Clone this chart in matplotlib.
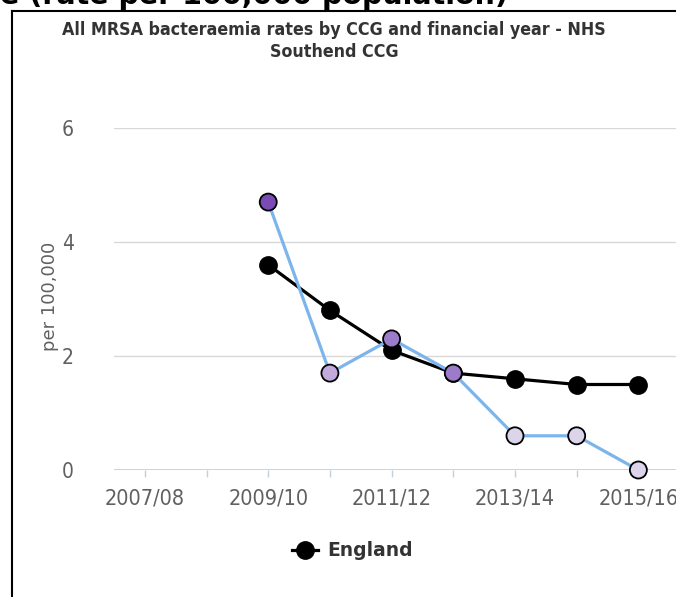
import matplotlib
matplotlib.use("Agg")
import matplotlib.pyplot as plt
from matplotlib.lines import Line2D

categories = ["2007/08", "2008/09", "2009/10", "2010/11", "2011/12",
              "2012/13", "2013/14", "2014/15", "2015/16"]
england = [None, None, 3.6, 2.8, 2.1, 1.7, 1.6, 1.5, 1.5]
southend = [None, None, 4.7, 1.7, 2.3, 1.7, 0.6, 0.6, 0.0]
southend_colors = [None, None, "#7a4bb4", "#c2a9de", "#9c7cca", "#9c7cca",
                   "#dcd4eb", "#dcd4eb", "#dcd4eb"]
yticks = [0, 2, 4, 6]
tick_labels_shown = ["2007/08", "2009/10", "2011/12", "2013/14", "2015/16"]

W, H = 676, 597
fig = plt.figure(figsize=(W / 100, H / 100), dpi=100)

def fx(px):
    return px / W

def fy(py):
    return 1 - py / H

# plot area
left, right, top, bottom = 114, 676, 128, 470
ax = fig.add_axes([fx(left), fy(bottom), fx(right - left), (bottom - top) / H])
ax.set_xlim(-0.5, 8.61)
ax.set_ylim(0, 6)
for s in ax.spines.values():
    s.set_visible(False)
ax.set_facecolor("none")

# gridlines
for yv in yticks[1:]:
    ax.axhline(yv, color="#d8d8d8", lw=1.0, zorder=0)
ax.axhline(0, color="#c0d0e0", lw=1.3, zorder=1)

x_idx = list(range(len(categories)))
ax.set_xticks(x_idx)
ax.set_xticklabels([c if c in tick_labels_shown else "" for c in categories],
                   fontstretch="condensed")
ax.tick_params(axis="x", length=5, width=1, color="#c0d0e0", pad=8,
               labelsize=15.5, labelcolor="#606060")
ax.set_yticks(yticks)
ax.set_yticklabels([str(v) for v in yticks], fontstretch="condensed")
ax.tick_params(axis="y", length=0, pad=29, labelsize=15, labelcolor="#606060")
fig.text(fx(50), fy(296), "per 100,000", rotation=90, ha="center", va="center",
         fontsize=13, color="#606060")

# England series
ex = [i for i, v in zip(x_idx, england) if v is not None]
ey = [v for v in england if v is not None]
ax.plot(ex, ey, color="black", lw=2.3, marker="o", markersize=12.5,
        markerfacecolor="black", markeredgecolor="black", zorder=3, clip_on=False)

# Southend series
sx = [i for i, v in zip(x_idx, southend) if v is not None]
sy = [v for v in southend if v is not None]
sc = [c for c, v in zip(southend_colors, southend) if v is not None]
ax.plot(sx, sy, color="#7cb5ec", lw=2.3, zorder=4, clip_on=False)
ax.scatter(sx, sy, s=150, c=sc, edgecolors="black", linewidths=1.3, zorder=5,
           clip_on=False)

# title
fig.text(fx(334), fy(30), "All MRSA bacteraemia rates by CCG and financial year - NHS",
         ha="center", va="center", fontsize=12.8, fontweight="bold", color="#333333",
         fontstretch="condensed")
fig.text(fx(334), fy(52), "Southend CCG", ha="center", va="center", fontsize=12.8,
         fontweight="bold", color="#333333", fontstretch="condensed")

# clipped page heading at very top
fig.text(fx(0), fy(4), "e (rate per 100,000 population)", ha="left", va="baseline",
         fontsize=20.5, fontweight="bold", color="black")

# border box
fig.add_artist(Line2D([fx(12), fx(12)], [fy(11), fy(600)], color="black", lw=1.5))
fig.add_artist(Line2D([fx(12), fx(680)], [fy(11), fy(11)], color="black", lw=1.5))

# legend
fig.add_artist(Line2D([fx(292), fx(318)], [fy(550), fy(550)], color="black", lw=2.3))
fig.add_artist(Line2D([fx(305)], [fy(550)], color="black", marker="o", markersize=12.5))
fig.text(fx(327), fy(550), "England", ha="left", va="center", fontsize=13.5,
         fontweight="bold", color="#333333")

fig.savefig("out.png", dpi=100)
